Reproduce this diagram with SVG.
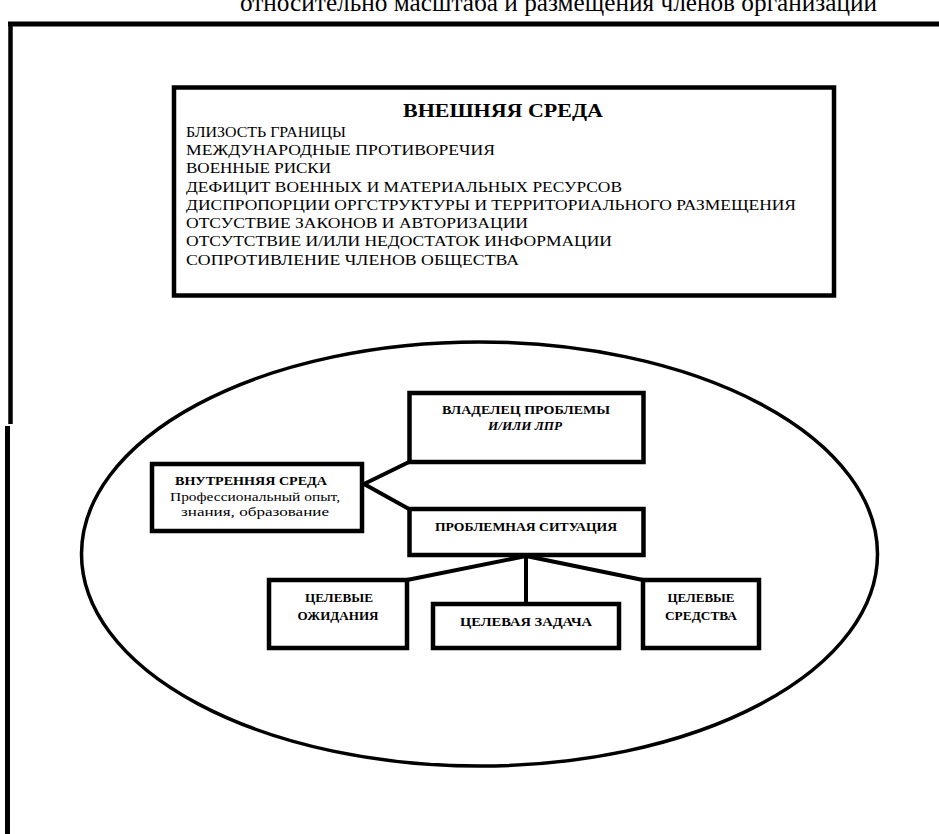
<svg xmlns="http://www.w3.org/2000/svg" width="939" height="834" viewBox="0 0 939 834">
<style>
.t{font-family:"Liberation Serif","Times New Roman",serif;fill:#000}
.bx{fill:#fff;stroke:#000;stroke-width:4.5}
.ln{font-size:15px}
.lb{font-size:12px;font-weight:bold}
.frame{stroke:#000;fill:none}
#connectors line{stroke:#000;stroke-width:4;stroke-linecap:round}
</style>
<rect width="939" height="834" fill="#fff"/>
<text class="t" x="240" y="11" font-size="26" textLength="637" lengthAdjust="spacingAndGlyphs">относительно масштаба и размещения членов организации</text>
<g id="frame" class="frame">
<line x1="8" y1="24" x2="939" y2="24" stroke-width="5"/>
<line x1="10.5" y1="22" x2="10.5" y2="424" stroke-width="4.5"/>
<line x1="7.5" y1="426" x2="7.5" y2="834" stroke-width="5"/>
</g>
<g id="external">
<rect class="bx" x="174" y="87.5" width="660" height="208"/>
<text class="t" x="503" y="117" font-size="18" font-weight="bold" text-anchor="middle" textLength="200" lengthAdjust="spacingAndGlyphs">ВНЕШНЯЯ СРЕДА</text>
<text class="t ln" x="186" y="137" textLength="160" lengthAdjust="spacingAndGlyphs">БЛИЗОСТЬ ГРАНИЦЫ</text>
<text class="t ln" x="186" y="155" textLength="309" lengthAdjust="spacingAndGlyphs">МЕЖДУНАРОДНЫЕ ПРОТИВОРЕЧИЯ</text>
<text class="t ln" x="186" y="173" textLength="145" lengthAdjust="spacingAndGlyphs">ВОЕННЫЕ РИСКИ</text>
<text class="t ln" x="186" y="192" textLength="436" lengthAdjust="spacingAndGlyphs">ДЕФИЦИТ ВОЕННЫХ И МАТЕРИАЛЬНЫХ РЕСУРСОВ</text>
<text class="t ln" x="186" y="210" textLength="610" lengthAdjust="spacingAndGlyphs">ДИСПРОПОРЦИИ ОРГСТРУКТУРЫ И ТЕРРИТОРИАЛЬНОГО РАЗМЕЩЕНИЯ</text>
<text class="t ln" x="186" y="228" textLength="342" lengthAdjust="spacingAndGlyphs">ОТСУСТВИЕ ЗАКОНОВ И АВТОРИЗАЦИИ</text>
<text class="t ln" x="186" y="246" textLength="426" lengthAdjust="spacingAndGlyphs">ОТСУТСТВИЕ И/ИЛИ НЕДОСТАТОК ИНФОРМАЦИИ</text>
<text class="t ln" x="186" y="265" textLength="333" lengthAdjust="spacingAndGlyphs">СОПРОТИВЛЕНИЕ ЧЛЕНОВ ОБЩЕСТВА</text>
</g>
<g id="organization">
<ellipse cx="479.5" cy="554" rx="398" ry="212" fill="none" stroke="#000" stroke-width="3.5"/>
</g>
<g id="connectors">
<line x1="364" y1="484" x2="409" y2="462"/>
<line x1="364" y1="484" x2="409" y2="509"/>
<line x1="526" y1="556" x2="407" y2="580"/>
<line x1="526" y1="556" x2="643" y2="580"/>
<line x1="526" y1="556" x2="526" y2="604"/>
</g>
<g id="owner">
<rect class="bx" x="409.5" y="393" width="234" height="69"/>
<text class="t lb" x="526" y="414" text-anchor="middle" textLength="168" lengthAdjust="spacingAndGlyphs">ВЛАДЕЛЕЦ ПРОБЛЕМЫ</text>
<text class="t lb" x="525" y="430" text-anchor="middle" font-style="italic" textLength="74" lengthAdjust="spacingAndGlyphs">И/ИЛИ ЛПР</text>
</g>
<g id="internal">
<rect class="bx" x="152" y="464" width="210" height="67"/>
<text class="t lb" x="251" y="485" text-anchor="middle" textLength="152" lengthAdjust="spacingAndGlyphs">ВНУТРЕННЯЯ  СРЕДА</text>
<text class="t" x="255" y="501" font-size="13" text-anchor="middle" textLength="170" lengthAdjust="spacingAndGlyphs">Профессиональный опыт,</text>
<text class="t" x="255" y="516" font-size="13" text-anchor="middle" textLength="148" lengthAdjust="spacingAndGlyphs">знания, образование</text>
</g>
<g id="situation">
<rect class="bx" x="409.5" y="509" width="234" height="46"/>
<text class="t lb" x="526" y="531" text-anchor="middle" textLength="182" lengthAdjust="spacingAndGlyphs">ПРОБЛЕМНАЯ СИТУАЦИЯ</text>
</g>
<g id="expectations">
<rect class="bx" x="269" y="580" width="138" height="68"/>
<text class="t lb" x="339" y="602" text-anchor="middle" textLength="68" lengthAdjust="spacingAndGlyphs">ЦЕЛЕВЫЕ</text>
<text class="t lb" x="338" y="620" text-anchor="middle" textLength="81" lengthAdjust="spacingAndGlyphs">ОЖИДАНИЯ</text>
</g>
<g id="task">
<rect class="bx" x="433" y="604" width="186" height="44"/>
<text class="t lb" x="526" y="626" text-anchor="middle" textLength="132" lengthAdjust="spacingAndGlyphs">ЦЕЛЕВАЯ ЗАДАЧА</text>
</g>
<g id="means">
<rect class="bx" x="643" y="580" width="116" height="68"/>
<text class="t lb" x="701" y="602" text-anchor="middle" textLength="67" lengthAdjust="spacingAndGlyphs">ЦЕЛЕВЫЕ</text>
<text class="t lb" x="701" y="620" text-anchor="middle" textLength="72" lengthAdjust="spacingAndGlyphs">СРЕДСТВА</text>
</g>
</svg>
